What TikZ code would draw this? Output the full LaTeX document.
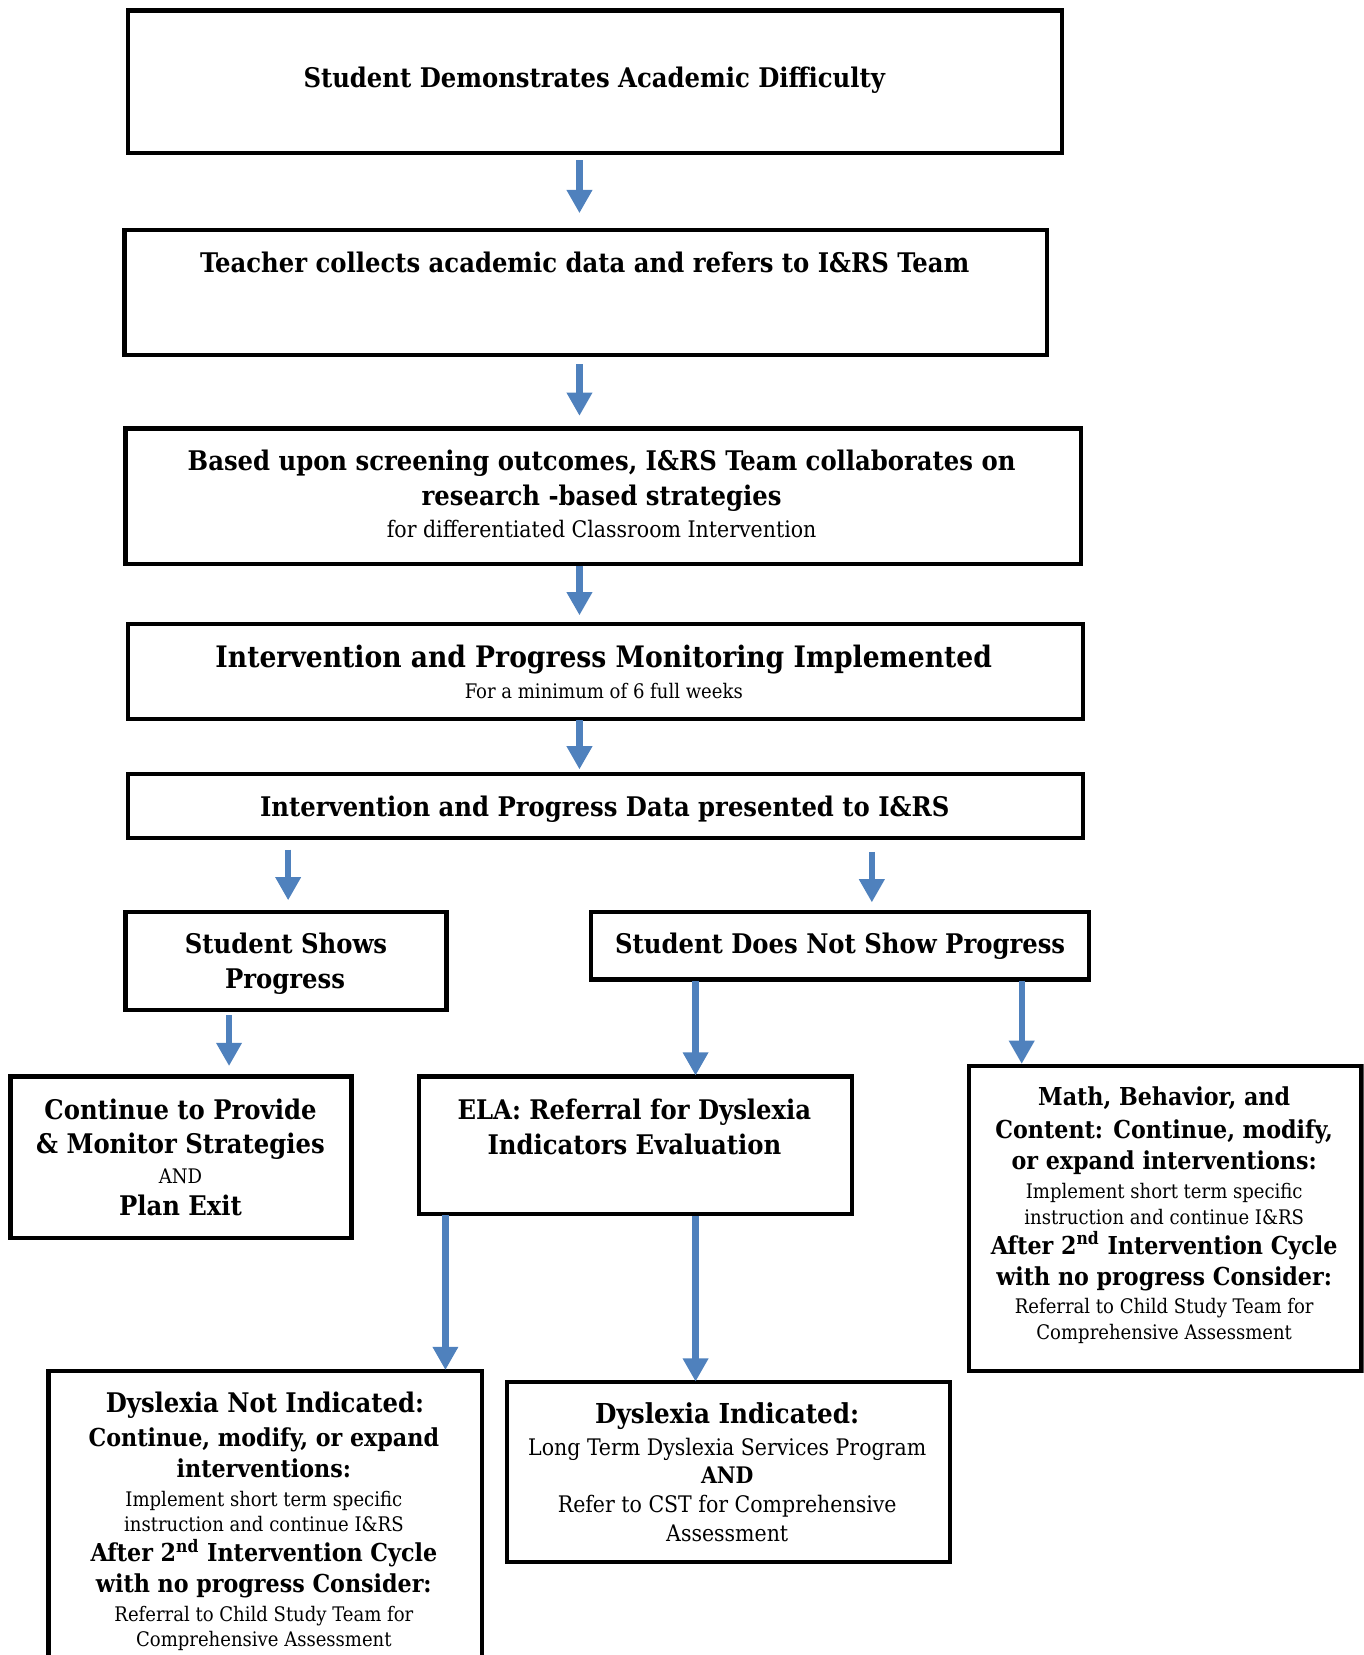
\documentclass[tikz,border=0pt]{standalone}
\usepackage{fontspec}
\setmainfont{DejaVu Serif Condensed}
\usetikzlibrary{arrows.meta,fit}
\definecolor{arrblue}{HTML}{4F81BD}
\newcommand\fBig{\fontsize{14}{16}\selectfont\bfseries}
\newcommand\fBold{\fontsize{12.8}{15}\selectfont\bfseries}
\newcommand\fBoldS{\fontsize{11.7}{14}\selectfont\bfseries}
\newcommand\fSmall{\fontsize{9.5}{12}\selectfont}
\newcommand\fMid{\fontsize{10.8}{13}\selectfont}
\begin{document}
\begin{tikzpicture}[x=0.5pt,y=-0.5pt,
  bx/.style={draw=black, line width=2pt, inner sep=0pt, outer sep=0pt},
  arr/.style={draw=arrblue, line width=3pt, -{Triangle[width=11.5pt,length=11pt]}},
  tx/.style={anchor=mid, inner sep=0pt, align=center, yshift=-2pt},
  tb/.style={tx, font=\fBold},
  tbs/.style={tx, font=\fBoldS},
  ts/.style={tx, font=\fSmall},
  tm/.style={tx, font=\fMid}]
\path[use as bounding box] (0,0) rectangle (1292,1568);
\clip (0,0) rectangle (1292,1568);
% boxes
\node[bx, fit={(121,10) (1006,145)}] (b1) {};
\node[bx, fit={(118,218) (992,336)}] (b2) {};
\node[bx, fit={(119,406) (1024,534)}] (b3) {};
\node[bx, fit={(121,591) (1026,681)}] (b4) {};
\node[bx, fit={(121,733) (1026,794)}] (b5) {};
\node[bx, fit={(119,864) (423,957)}] (b6) {};
\node[bx, fit={(560,864) (1032,928)}] (b7) {};
\node[bx, fit={(10,1020) (333,1173)}] (b8) {};
\node[bx, fit={(397,1020) (807,1150)}] (b9) {};
\node[bx, fit={(918,1010) (1290,1299)}] (b10) {};
\node[bx, fit={(46,1299) (457,1620)}] (b11) {};
\node[bx, fit={(480,1309) (900,1480)}] (b12) {};
% texts
\node[tb] (t1) at (563,74) {Student Demonstrates Academic Difficulty};
\node[tb] (t2) at (554,249) {Teacher collects academic data and refers to I\&RS Team};
\node[tb] (t3a) at (570,437) {Based upon screening outcomes, I\&RS Team collaborates on};
\node[tb] (t3b) at (570,470) {research -based strategies};
\node[tm] (t3c) at (570,500) {for differentiated Classroom Intervention};
\node[tx, font=\fBig] (t4a) at (572,623) {Intervention and Progress Monitoring Implemented};
\node[ts] (t4b) at (572,653) {For a minimum of 6 full weeks};
\node[tb] (t5) at (573,764) {Intervention and Progress Data presented to I\&RS};
\node[tb] (t6a) at (271,894) {Student Shows};
\node[tb] (t6b) at (270,927) {Progress};
\node[tb] (t7) at (796,894) {Student Does Not Show Progress};
\node[tb] (t8a) at (171,1051) {Continue to Provide};
\node[tb] (t8b) at (171,1084) {\& Monitor Strategies};
\node[ts] (t8c) at (171,1112) {AND};
\node[tb] (t8d) at (171,1142) {Plan Exit};
\node[tb] (t9a) at (601,1051) {ELA: Referral for Dyslexia};
\node[tb] (t9b) at (601,1085) {Indicators Evaluation};
\node[tbs] (t10a) at (1103,1038) {Math, Behavior, and};
\node[tbs] (t10b) at (1103,1069) {Content: Continue, modify,};
\node[tbs] (t10c) at (1103,1099) {or expand interventions:};
\node[ts] (t10d) at (1103,1126) {Implement short term specific};
\node[ts] (t10e) at (1103,1151) {instruction and continue I\&RS};
\node[tbs] (t10f) at (1103,1179) {After 2\textsuperscript{nd} Intervention Cycle};
\node[tbs] (t10g) at (1103,1209) {with no progress Consider:};
\node[ts] (t10h) at (1103,1235) {Referral to Child Study Team for};
\node[ts] (t10i) at (1103,1260) {Comprehensive Assessment};
\node[tb] (t11a) at (251,1329) {Dyslexia Not Indicated:};
\node[tbs] (t11b) at (250,1361) {Continue, modify, or expand};
\node[tbs] (t11c) at (250,1391) {interventions:};
\node[ts] (t11d) at (250,1418) {Implement short term specific};
\node[ts] (t11e) at (250,1442) {instruction and continue I\&RS};
\node[tbs] (t11f) at (250,1470) {After 2\textsuperscript{nd} Intervention Cycle};
\node[tbs] (t11g) at (250,1500) {with no progress Consider:};
\node[ts] (t11h) at (250,1527) {Referral to Child Study Team for};
\node[ts] (t11i) at (250,1551) {Comprehensive Assessment};
\node[tx, font=\fontsize{13}{15}\selectfont\bfseries] (t12a) at (689,1339) {Dyslexia Indicated:};
\node[tm] (t12b) at (689,1370) {Long Term Dyslexia Services Program};
\node[tx, font=\fMid\bfseries] (t12c) at (689,1396) {AND};
\node[tm] (t12d) at (689,1424) {Refer to CST for Comprehensive};
\node[tm] (t12e) at (689,1451) {Assessment};
% arrows
\draw[arr, shorten <=3.5pt, shorten >=8pt] (549,0 |- b1.south) -- (549,0 |- b2.north);
\draw[arr, shorten <=4.5pt, shorten >=6pt] (549,0 |- b2.south) -- (549,0 |- b3.north);
\draw[arr, shorten <=1pt, shorten >=4pt] (549,0 |- b3.south) -- (549,0 |- b4.north);
\draw[arr, shorten <=0.5pt, shorten >=2pt] (549,0 |- b4.south) -- (549,0 |- b5.north);
\draw[arr, shorten <=5.5pt, shorten >=5.5pt] (273,0 |- b5.south) -- (273,0 |- b6.north);
\draw[arr, shorten <=6.5pt, shorten >=4.5pt] (826,0 |- b5.south) -- (826,0 |- b7.north);
\draw[arr, shorten <=2.5pt, shorten >=5pt] (217,0 |- b6.south) -- (217,0 |- b8.north);
\draw[arr, shorten <=0.5pt, shorten >=0.5pt] (659,0 |- b7.south) -- (659,0 |- b9.north);
\draw[arr, shorten <=0.5pt, shorten >=1pt] (968,0 |- b7.south) -- (968,0 |- b10.north);
\draw[arr, shorten <=0.5pt, shorten >=0.5pt] (422,0 |- b9.south) -- (422,0 |- b11.north);
\draw[arr, shorten <=1pt, shorten >=0pt] (659,0 |- b9.south) -- (659,0 |- b12.north);
\end{tikzpicture}
\end{document}
